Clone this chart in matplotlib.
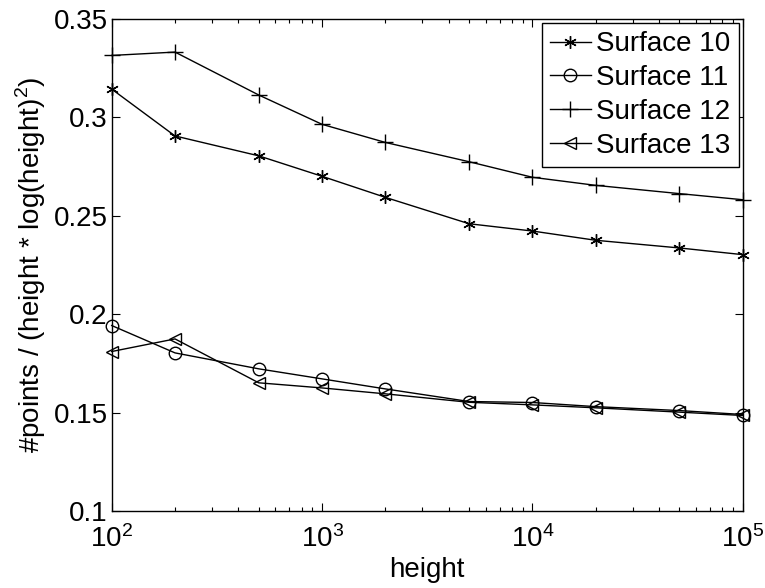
import matplotlib
matplotlib.use("Agg")
import matplotlib.pyplot as plt
from matplotlib.ticker import LogLocator, FixedLocator

plt.rcParams['font.family'] = ['Liberation Sans', 'DejaVu Sans']
plt.rcParams['mathtext.fontset'] = 'custom'
plt.rcParams['mathtext.rm'] = 'Liberation Sans'

heights = [100, 200, 500, 1000, 2000, 5000, 10000, 20000, 50000, 100000]
surface10 = [0.3143, 0.2905, 0.2804, 0.2700, 0.2593, 0.2459, 0.2422, 0.2375, 0.2336, 0.2302]
surface11 = [0.1942, 0.1803, 0.1722, 0.1671, 0.1620, 0.1556, 0.1551, 0.1530, 0.1510, 0.1490]
surface12 = [0.3314, 0.3331, 0.3113, 0.2964, 0.2872, 0.2774, 0.2695, 0.2654, 0.2612, 0.2581]
surface13 = [0.1810, 0.1874, 0.1651, 0.1625, 0.1595, 0.1552, 0.1539, 0.1524, 0.1502, 0.1485]
labels = ['Surface 10', 'Surface 11', 'Surface 12', 'Surface 13']
yticks = [0.1, 0.15, 0.2, 0.25, 0.3, 0.35]
ytick_labels = ['0.1', '0.15', '0.2', '0.25', '0.3', '0.35']

fig = plt.figure(figsize=(7.65, 5.88), dpi=100)
ax = fig.add_axes([0.146, 0.131, 0.825, 0.837])

kw = dict(color='black', linewidth=1.0, markersize=9, markeredgewidth=1.0,
          markerfacecolor='none', clip_on=False)
ax.plot(heights, surface10, marker=(6, 2, 0), label=labels[0], **kw)
ax.plot(heights, surface11, marker='o', label=labels[1], **kw)
ax.plot(heights, surface12, marker='+', label=labels[2], **{**kw, 'markersize': 11})
ax.plot(heights, surface13, marker='<', label=labels[3], **kw)

ax.set_xscale('log')
ax.set_xlim(100, 100000)
ax.set_ylim(0.1, 0.35)
ax.yaxis.set_major_locator(FixedLocator(yticks))
ax.set_yticklabels(ytick_labels)
ax.xaxis.set_major_locator(LogLocator(base=10))
ax.xaxis.set_minor_locator(LogLocator(base=10, subs=range(2, 10)))

ax.tick_params(which='both', direction='in', top=True, right=True, labelsize=20, width=0.8)
ax.tick_params(which='major', length=6)
ax.tick_params(axis='y', which='major', pad=3)
ax.tick_params(axis='x', which='major', pad=10)
ax.tick_params(which='minor', length=3)
for s in ax.spines.values():
    s.set_linewidth(1.0)

ax.set_xlabel('height', fontsize=20, labelpad=3)
ax.set_ylabel(r'#points / (height * log(height)$^2$)', fontsize=20, labelpad=4)

leg = ax.legend(loc='upper right', fontsize=20, frameon=True, fancybox=False,
                edgecolor='black', framealpha=1, handlelength=1.45, handletextpad=0.2,
                borderpad=0.3, labelspacing=0.28, borderaxespad=0.15)
leg.get_frame().set_linewidth(1.0)

fig.savefig('out.png', dpi=100)
